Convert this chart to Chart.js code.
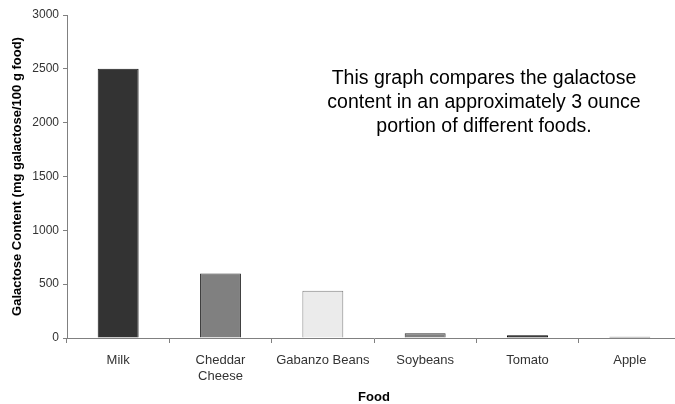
<!DOCTYPE html>
<html>
<head>
<meta charset="utf-8">
<script src="https://cdn.jsdelivr.net/npm/chart.js@4/dist/chart.umd.min.js"></script>
<style>
  html, body { margin: 0; padding: 0; background: #fff; overflow: hidden; }
  #wrap { position: relative; width: 675px; height: 404px; overflow: hidden; }
</style>
</head>
<body>
<div id="wrap"><canvas id="c" width="681" height="404"></canvas></div>
<script>
// Galactose content per food (mg galactose / 100 g food)
const foods = ['Milk', ['Cheddar', 'Cheese'], 'Gabanzo Beans', 'Soybeans', 'Tomato', 'Apple'];
const galactose = [2500, 600, 440, 45, 25, 12];
const barColors = ['#333333', '#808080', '#ebebeb', '#808080', '#111111', '#333333'];
const barEdges = ['#1a1a1a', '#333333', '#7f7f7f', '#333333', '#000000', '#000000'];
const noteLines = [
  'This graph compares the galactose',
  'content in an approximately 3 ounce',
  'portion of different foods.'
];

const notePlugin = {
  id: 'note',
  afterDraw(chart) {
    const ctx = chart.ctx;
    ctx.save();
    ctx.fillStyle = '#000';
    ctx.font = '19.5px Arial, "Liberation Sans", sans-serif';
    ctx.textAlign = 'center';
    ctx.textBaseline = 'middle';
    noteLines.forEach((t, i) => ctx.fillText(t, 484, 79 + i * 24));
    ctx.restore();
  }
};

new Chart(document.getElementById('c'), {
  type: 'bar',
  data: {
    labels: foods,
    datasets: [{
      data: galactose,
      backgroundColor: barColors,
      borderColor: barEdges,
      borderWidth: 1,
      categoryPercentage: 1,
      barPercentage: 0.4
    }]
  },
  options: {
    responsive: false,
    animation: false,
    layout: { padding: { top: 15, right: 0, left: 6, bottom: 0 } },
    plugins: { legend: { display: false }, tooltip: { enabled: false } },
    scales: {
      y: {
        min: 0, max: 3000,
        ticks: { stepSize: 500, color: '#333', font: { family: 'Arial', size: 12 }, padding: 4,
                 callback: v => String(v) },
        grid: { drawOnChartArea: false, tickLength: 4, color: '#808080' },
        border: { color: '#808080' },
        title: { display: true, text: 'Galactose Content (mg galactose/100 g food)', color: '#000',
                 font: { family: 'Arial', size: 13, weight: 'bold' }, padding: 4 },
        afterFit(s) { s.width = 61; }
      },
      x: {
        ticks: { color: '#333', font: { family: 'Arial', size: 13, lineHeight: 1.25 }, padding: 9, maxRotation: 0 },
        grid: { offset: true, drawOnChartArea: false, tickLength: 5, color: '#808080' },
        border: { color: '#808080' },
        title: { display: true, text: 'Food', color: '#000',
                 font: { family: 'Arial', size: 13, weight: 'bold', lineHeight: 1 }, padding: { top: 10, bottom: 0 } },
        afterFit(s) { s.height = 66; }
      }
    }
  },
  plugins: [notePlugin]
});
</script>
</body>
</html>
